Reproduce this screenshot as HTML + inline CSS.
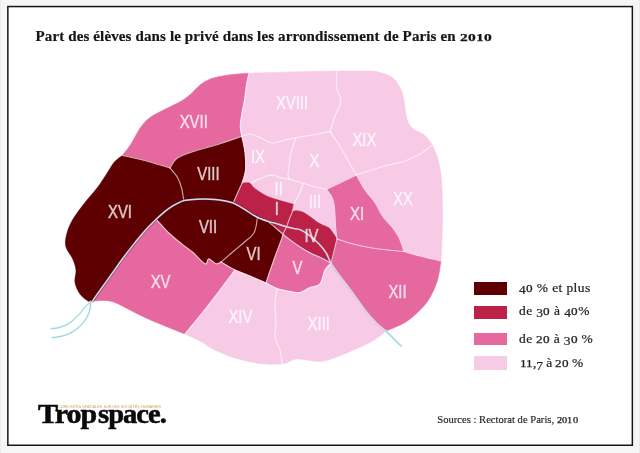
<!DOCTYPE html>
<html lang="fr"><head><meta charset="utf-8"><title>Part des élèves dans le privé</title>
<style>
html,body{margin:0;padding:0}
body{width:640px;height:453px;background:#f6f6f6;position:relative;box-shadow:inset 1px 0 0 #ececec, inset -1px 0 0 #ececec;overflow:hidden;font-family:"Liberation Serif",serif}
#title{position:absolute;left:35.5px;top:27px;font-weight:bold;font-size:15px;line-height:18px;color:#151515;white-space:nowrap;letter-spacing:0.13px;-webkit-text-stroke:.2px #151515}
.leg{position:absolute;left:474px;width:33px}
.lt{position:absolute;left:519px;font-size:13.5px;line-height:16px;color:#222;-webkit-text-stroke:.22px #222;white-space:nowrap;letter-spacing:0.4px}
#src{position:absolute;left:437.3px;top:413.6px;font-size:10.6px;line-height:12px;color:#222;-webkit-text-stroke:.15px #222;white-space:nowrap}
#logo{position:absolute;left:38.2px;top:399px;font-weight:bold;font-size:28px;line-height:30px;color:#0a0a0a;letter-spacing:-0.95px;white-space:nowrap;-webkit-text-stroke:0.55px #0a0a0a}
#tag{position:absolute;left:57.6px;top:403.6px;font-family:"Liberation Sans",sans-serif;font-size:4.2px;line-height:5px;color:#c9a45a;white-space:nowrap;transform-origin:0 0;transform:scaleX(0.906)}
.o{display:inline-block;font-size:.74em;width:.68em;transform:scaleX(1.32);transform-origin:0 100%;-webkit-text-stroke:.25px currentColor;letter-spacing:0}
.d{position:relative;top:.2em}
#title .o{width:.72em;transform:scaleX(1.4)}
#title,.lt,#src,#logo,#tag,.leg{filter:blur(0.4px)}
</style></head><body>
<svg id="frame" width="640" height="453" viewBox="0 0 640 453" style="position:absolute;left:0;top:0"><rect x="7.85" y="6.55" width="624.5" height="438.7" fill="#fff" stroke="#161616" stroke-width="1.5"/></svg>
<div id="title">Part des élèves dans le privé dans les arrondissement de Paris en <span class="o">2</span><span class="o">0</span><span class="o">1</span><span class="o">0</span></div>
<svg width="640" height="453" viewBox="0 0 640 453" style="position:absolute;left:0;top:0;filter:blur(0.45px)">
<g stroke-linejoin="round">
<path fill="#e5689f" stroke="#e5689f" stroke-width="0.6" d="M122.3,155.5C123.8,153.6 128.1,148.4 131.0,143.9C133.9,139.4 137.0,132.6 139.9,128.4C142.8,124.2 145.4,121.2 148.7,118.5C152.0,115.8 156.0,113.9 159.7,111.9C163.4,109.9 167.1,108.2 170.8,106.4C174.5,104.6 178.5,102.8 181.8,100.8C185.1,98.8 187.7,96.8 190.6,94.2C193.5,91.6 196.6,87.8 199.5,85.4C202.4,83.0 205.0,81.4 208.3,79.9C211.6,78.4 214.9,77.5 219.3,76.6C223.7,75.7 229.9,74.9 234.8,74.3C239.8,73.7 246.6,73.4 249.0,73.2C248.6,75.2 247.2,80.5 246.5,85.0C245.8,89.5 245.2,95.3 244.5,100.0C243.8,104.7 242.7,108.6 242.0,113.0C241.3,117.4 240.3,122.6 240.3,126.5C240.3,130.4 241.6,134.6 241.8,136.2C238.2,137.5 227.8,141.3 220.0,143.8C212.2,146.3 202.1,148.6 195.0,151.0C187.9,153.4 181.7,155.2 177.5,158.0C173.3,160.8 171.2,166.3 170.0,168.0C168.3,167.5 164.6,166.3 160.0,165.0C155.4,163.7 148.8,161.6 142.5,160.0C136.2,158.4 125.7,156.2 122.3,155.5Z"/>
<path fill="#f7cbe5" stroke="#f7cbe5" stroke-width="0.6" d="M249.0,73.2C255.8,73.0 275.3,72.4 290.0,72.0C304.7,71.6 329.2,71.2 337.0,71.0C336.9,72.5 336.7,76.9 336.7,80.0C336.7,83.1 336.3,86.2 337.0,89.5C337.7,92.8 340.6,96.8 340.9,100.0C341.1,103.2 339.5,105.8 338.5,108.5C337.5,111.2 336.4,112.2 335.0,116.0C333.6,119.8 330.8,128.9 330.0,131.5C326.7,132.2 315.7,134.5 310.0,135.5C304.3,136.5 298.3,137.2 296.0,137.5C294.2,137.9 288.9,139.1 285.0,140.0C281.1,140.9 276.7,143.4 272.5,143.0C268.3,142.6 263.8,139.0 260.0,137.5C256.2,136.0 253.0,134.2 250.0,134.0C247.0,133.8 243.2,135.8 241.8,136.2C241.6,134.6 240.3,130.4 240.3,126.5C240.3,122.6 241.3,117.4 242.0,113.0C242.7,108.6 243.8,104.7 244.5,100.0C245.2,95.3 245.8,89.5 246.5,85.0C247.2,80.5 248.6,75.2 249.0,73.2Z"/>
<path fill="#f7cbe5" stroke="#f7cbe5" stroke-width="0.6" d="M337.0,71.0C342.5,71.0 362.8,70.8 370.0,71.0C377.2,71.2 376.2,71.4 380.0,72.5C383.8,73.6 389.2,75.0 392.5,77.5C395.8,80.0 398.1,83.8 400.0,87.5C401.9,91.2 403.0,95.4 404.0,100.0C405.0,104.6 405.2,111.0 406.0,115.0C406.8,119.0 407.5,121.5 409.0,124.0C410.5,126.5 412.3,128.1 415.0,130.0C417.7,131.9 422.1,133.0 425.0,135.5C427.9,138.0 431.2,143.4 432.5,145.0C430.4,146.5 424.6,151.3 420.0,154.0C415.4,156.7 410.8,159.0 405.0,161.0C399.2,163.0 390.8,164.4 385.0,166.0C379.2,167.6 374.8,169.0 370.0,170.5C365.2,172.0 358.8,174.2 356.5,175.0C355.4,173.2 352.8,168.8 350.0,164.0C347.2,159.2 343.3,151.9 340.0,146.5C336.7,141.1 331.7,134.0 330.0,131.5C330.8,128.9 333.6,119.8 335.0,116.0C336.4,112.2 337.5,111.2 338.5,108.5C339.5,105.8 341.1,103.2 340.9,100.0C340.6,96.8 337.7,92.8 337.0,89.5C336.3,86.2 336.7,83.1 336.7,80.0C336.7,76.9 336.9,72.5 337.0,71.0Z"/>
<path fill="#f7cbe5" stroke="#f7cbe5" stroke-width="0.6" d="M432.5,145.0C433.3,147.1 436.2,153.3 437.5,157.5C438.8,161.7 439.6,165.4 440.3,170.0C441.0,174.6 441.5,180.0 441.8,185.0C442.1,190.0 442.3,194.2 442.4,200.0C442.5,205.8 442.7,212.5 442.6,220.0C442.5,227.5 442.1,238.2 441.8,245.0C441.5,251.8 441.1,258.3 441.0,261.0C437.5,260.2 426.2,257.6 420.0,256.0C413.8,254.4 406.7,252.2 404.0,251.5C403.2,249.2 400.9,241.5 399.0,237.5C397.1,233.5 395.2,231.1 392.5,227.5C389.8,223.9 385.4,220.2 382.5,216.0C379.6,211.8 377.9,206.8 375.0,202.5C372.1,198.2 368.1,194.6 365.0,190.0C361.9,185.4 357.9,177.5 356.5,175.0C358.8,174.2 365.2,172.0 370.0,170.5C374.8,169.0 379.2,167.6 385.0,166.0C390.8,164.4 399.2,163.0 405.0,161.0C410.8,159.0 415.4,156.7 420.0,154.0C424.6,151.3 430.4,146.5 432.5,145.0Z"/>
<path fill="#5e0001" stroke="#5e0001" stroke-width="0.6" d="M122.3,155.5C120.9,156.7 116.7,159.2 114.0,162.5C111.3,165.8 108.8,170.8 106.0,175.0C103.2,179.2 101.0,182.9 97.5,187.5C94.0,192.1 89.2,197.1 85.0,202.5C80.8,207.9 75.6,214.6 72.5,220.0C69.4,225.4 67.6,230.5 66.5,235.0C65.4,239.5 65.0,243.1 66.0,247.0C67.0,250.9 70.8,254.7 72.5,258.5C74.2,262.3 75.6,266.0 76.0,270.0C76.4,274.0 74.3,278.5 75.0,282.5C75.7,286.5 77.8,290.9 80.0,294.0C82.2,297.1 85.9,299.8 88.0,301.0C90.1,302.2 91.8,301.0 92.5,301.0C93.9,299.0 97.7,293.5 101.0,288.9C104.3,284.3 108.4,278.5 112.1,273.4C115.8,268.2 119.4,263.0 123.1,258.0C126.8,253.0 130.5,248.2 134.2,243.6C137.9,239.0 141.5,234.4 145.2,230.4C148.9,226.4 154.4,221.2 156.2,219.3C157.7,218.0 162.5,213.5 165.0,211.4C167.5,209.3 169.2,208.1 171.2,206.8C173.3,205.4 175.4,204.3 177.5,203.3C179.6,202.3 182.7,201.1 183.8,200.6C183.4,198.5 182.6,191.8 181.6,188.0C180.6,184.2 179.4,180.8 177.5,177.5C175.6,174.2 171.2,169.6 170.0,168.0C168.3,167.5 164.6,166.3 160.0,165.0C155.4,163.7 148.8,161.6 142.5,160.0C136.2,158.4 125.7,156.2 122.3,155.5Z"/>
<path fill="#5e0001" stroke="#5e0001" stroke-width="0.6" d="M170.0,168.0C171.2,166.3 173.3,160.8 177.5,158.0C181.7,155.2 187.9,153.4 195.0,151.0C202.1,148.6 212.2,146.3 220.0,143.8C227.8,141.3 238.2,137.5 241.8,136.2C242.3,138.9 244.4,146.9 245.0,152.5C245.6,158.1 246.0,164.9 245.5,170.0C245.0,175.1 242.6,181.0 242.0,183.2C241.3,184.7 239.5,188.7 238.0,192.0C236.5,195.3 234.0,201.3 233.2,203.2C231.7,202.8 227.0,201.4 224.0,200.8C221.0,200.2 218.2,199.8 215.0,199.5C211.8,199.2 208.1,199.0 205.0,199.0C201.9,199.0 198.8,199.1 196.2,199.2C193.8,199.4 192.1,199.6 190.0,199.8C187.9,200.0 184.8,200.5 183.8,200.6C183.4,198.5 182.6,191.8 181.6,188.0C180.6,184.2 179.4,180.8 177.5,177.5C175.6,174.2 171.2,169.6 170.0,168.0Z"/>
<path fill="#f7cbe5" stroke="#f7cbe5" stroke-width="0.6" d="M241.8,136.2C242.3,138.9 244.4,146.9 245.0,152.5C245.6,158.1 246.0,164.9 245.5,170.0C245.0,175.1 242.6,181.0 242.0,183.2C243.5,183.2 249.5,183.0 251.0,183.0C252.3,182.3 256.2,180.2 259.0,179.0C261.8,177.8 265.2,176.3 267.7,175.7C270.2,175.1 271.9,175.0 274.0,175.3C276.1,175.6 277.5,177.0 280.0,177.6C282.5,178.2 287.5,178.8 289.0,179.0C288.8,178.2 288.0,175.9 288.0,174.0C288.0,172.1 288.3,171.1 288.8,167.5C289.3,163.9 289.8,157.5 291.0,152.5C292.2,147.5 295.2,140.0 296.0,137.5C294.2,137.9 288.9,139.1 285.0,140.0C281.1,140.9 276.7,143.4 272.5,143.0C268.3,142.6 263.8,139.0 260.0,137.5C256.2,136.0 253.0,134.2 250.0,134.0C247.0,133.8 243.2,135.8 241.8,136.2Z"/>
<path fill="#f7cbe5" stroke="#f7cbe5" stroke-width="0.6" d="M296.0,137.5C298.3,137.2 304.3,136.5 310.0,135.5C315.7,134.5 326.7,132.2 330.0,131.5C331.7,134.0 336.7,141.1 340.0,146.5C343.3,151.9 347.2,159.2 350.0,164.0C352.8,168.8 355.4,173.2 356.5,175.0C351.5,177.4 331.5,186.9 326.5,189.3C324.6,188.9 319.1,188.0 315.2,187.0C311.3,186.0 305.3,183.9 303.3,183.3C300.9,182.6 291.4,179.7 289.0,179.0C288.8,178.2 288.0,175.9 288.0,174.0C288.0,172.1 288.3,171.1 288.8,167.5C289.3,163.9 289.8,157.5 291.0,152.5C292.2,147.5 295.2,140.0 296.0,137.5Z"/>
<path fill="#f7cbe5" stroke="#f7cbe5" stroke-width="0.6" d="M251.0,183.0C252.3,182.3 256.2,180.2 259.0,179.0C261.8,177.8 265.2,176.3 267.7,175.7C270.2,175.1 271.9,175.0 274.0,175.3C276.1,175.6 277.5,177.0 280.0,177.6C282.5,178.2 287.5,178.8 289.0,179.0C291.4,179.7 300.9,182.6 303.3,183.3C302.7,184.9 301.4,189.2 299.8,192.7C298.2,196.2 295.0,202.5 294.0,204.5C291.7,203.8 284.4,201.9 280.0,200.6C275.6,199.3 271.2,198.0 267.7,196.5C264.2,195.0 261.4,193.1 259.0,191.5C256.6,189.9 254.6,188.4 253.0,187.0C251.4,185.6 250.1,183.7 249.5,183.0Z"/>
<path fill="#f7cbe5" stroke="#f7cbe5" stroke-width="0.6" d="M303.3,183.3C305.3,183.9 311.3,186.0 315.2,187.0C319.1,188.0 324.6,188.9 326.5,189.3C327.4,190.5 330.4,194.1 331.6,196.5C332.9,198.9 333.4,200.9 334.0,204.0C334.6,207.1 334.7,211.2 335.0,215.0C335.3,218.8 335.3,223.0 335.6,227.0C335.9,231.0 336.8,237.0 337.0,239.0C336.2,237.8 333.4,233.5 332.0,231.6C330.6,229.7 330.0,228.6 328.5,227.6C327.0,226.6 324.8,226.2 323.0,225.3C321.2,224.4 319.4,223.5 317.5,222.3C315.6,221.1 313.6,219.3 311.9,218.1C310.2,216.8 308.8,215.8 307.2,214.8C305.6,213.8 304.2,212.7 302.5,212.0C300.8,211.3 298.6,210.9 296.9,210.8C295.2,210.7 293.1,211.5 292.4,211.6C292.7,210.4 293.7,205.7 294.0,204.5C295.0,202.5 298.2,196.2 299.8,192.7C301.4,189.2 302.7,184.9 303.3,183.3Z"/>
<path fill="#e5689f" stroke="#e5689f" stroke-width="0.6" d="M326.5,189.3C331.5,186.9 351.5,177.4 356.5,175.0C357.9,177.5 361.9,185.4 365.0,190.0C368.1,194.6 372.1,198.2 375.0,202.5C377.9,206.8 379.6,211.8 382.5,216.0C385.4,220.2 389.8,223.9 392.5,227.5C395.2,231.1 397.1,233.5 399.0,237.5C400.9,241.5 403.2,249.2 404.0,251.5C399.2,251.0 383.2,249.7 375.0,248.5C366.8,247.3 361.3,246.1 355.0,244.5C348.7,242.9 340.0,239.9 337.0,239.0C336.8,237.0 335.9,231.0 335.6,227.0C335.3,223.0 335.3,218.8 335.0,215.0C334.7,211.2 334.6,207.1 334.0,204.0C333.4,200.9 332.9,198.9 331.6,196.5C330.4,194.1 327.4,190.5 326.5,189.3Z"/>
<path fill="#e5689f" stroke="#e5689f" stroke-width="0.6" d="M337.0,239.0C340.0,239.9 348.7,242.9 355.0,244.5C361.3,246.1 366.8,247.3 375.0,248.5C383.2,249.7 399.2,251.0 404.0,251.5C406.7,252.2 413.8,254.4 420.0,256.0C426.2,257.6 437.5,260.2 441.0,261.0C440.4,264.2 439.3,273.9 437.5,280.0C435.7,286.1 432.9,292.5 430.0,297.5C427.1,302.5 424.2,305.8 420.0,310.0C415.8,314.2 410.7,319.0 405.0,322.5C399.3,326.0 389.2,329.6 386.0,331.0C384.3,329.6 379.5,326.0 376.0,322.5C372.5,319.0 368.9,315.0 365.0,310.0C361.1,305.0 356.7,298.2 352.5,292.5C348.3,286.8 343.6,280.9 340.0,276.0C336.4,271.1 332.5,265.3 331.0,263.2C332.0,259.2 336.0,243.0 337.0,239.0Z"/>
<path fill="#bc2147" stroke="#bc2147" stroke-width="0.6" d="M242.0,183.2C243.2,183.2 247.7,182.4 249.5,183.0C251.3,183.6 251.4,185.6 253.0,187.0C254.6,188.4 256.6,189.9 259.0,191.5C261.4,193.1 264.2,195.0 267.7,196.5C271.2,198.0 275.6,199.3 280.0,200.6C284.4,201.9 291.7,203.8 294.0,204.5C293.7,205.7 292.7,210.4 292.4,211.6C291.9,212.8 290.4,216.5 289.4,219.0C288.4,221.5 287.0,225.5 286.5,226.8C285.0,226.3 280.7,224.9 277.5,224.0C274.3,223.1 269.8,221.9 267.2,221.1C264.6,220.3 262.9,219.5 262.0,219.2C261.2,218.9 258.2,217.7 257.5,217.4C256.8,217.0 255.4,216.4 253.1,215.0C250.8,213.6 247.1,210.9 243.8,208.9C240.4,206.9 235.0,204.1 233.2,203.2C234.0,201.3 236.5,195.3 238.0,192.0C239.5,188.7 241.3,184.7 242.0,183.2Z"/>
<path fill="#bc2147" stroke="#bc2147" stroke-width="0.6" d="M262.0,219.2C262.9,219.5 264.6,220.3 267.2,221.1C269.8,221.9 274.3,223.1 277.5,224.0C280.7,224.9 285.0,226.3 286.5,226.8C285.9,228.0 283.6,233.0 283.0,234.2C282.1,233.4 280.0,231.6 277.5,229.5C275.0,227.4 270.6,223.3 268.0,221.6C265.4,219.9 263.0,219.6 262.0,219.2Z"/>
<path fill="#bc2147" stroke="#bc2147" stroke-width="0.6" d="M292.4,211.6C293.1,211.5 295.2,210.7 296.9,210.8C298.6,210.9 300.8,211.3 302.5,212.0C304.2,212.7 305.6,213.8 307.2,214.8C308.8,215.8 310.2,216.8 311.9,218.1C313.6,219.3 315.6,221.1 317.5,222.3C319.4,223.5 321.2,224.4 323.0,225.3C324.8,226.2 327.0,226.6 328.5,227.6C330.0,228.6 330.6,229.7 332.0,231.6C333.4,233.5 336.2,237.8 337.0,239.0C336.0,243.0 332.0,259.2 331.0,263.2C329.6,262.4 325.8,260.1 322.5,258.5C319.2,256.9 315.0,255.4 311.2,253.5C307.5,251.6 304.1,249.7 300.0,247.0C295.9,244.3 289.7,239.6 286.9,237.5C284.1,235.4 283.6,234.8 283.0,234.2C283.6,233.0 285.9,228.0 286.5,226.8C287.0,225.5 288.4,221.5 289.4,219.0C290.4,216.5 291.9,212.8 292.4,211.6Z"/>
<path fill="#5e0001" stroke="#5e0001" stroke-width="0.6" d="M183.8,200.6C184.8,200.5 187.9,200.0 190.0,199.8C192.1,199.6 193.8,199.4 196.2,199.2C198.8,199.1 201.9,199.0 205.0,199.0C208.1,199.0 211.8,199.2 215.0,199.5C218.2,199.8 221.0,200.2 224.0,200.8C227.0,201.4 231.7,202.8 233.2,203.2C235.0,204.1 240.4,206.9 243.8,208.9C247.1,210.9 250.8,213.6 253.1,215.0C255.4,216.4 256.8,217.0 257.5,217.4C256.9,219.9 256.4,228.3 254.2,232.4C252.0,236.5 247.9,238.9 244.5,242.0C241.1,245.1 237.8,247.7 233.9,251.0C230.0,254.3 223.2,260.2 221.0,262.0C220.2,262.3 218.0,264.3 216.0,263.8C214.0,263.2 210.6,258.8 208.8,258.8C206.9,258.8 207.7,264.9 205.0,263.8C202.3,262.6 195.8,254.9 192.5,252.0C189.2,249.1 188.8,249.5 185.0,246.5C181.2,243.5 174.8,238.5 170.0,234.0C165.2,229.5 158.5,221.8 156.2,219.3C157.7,218.0 162.5,213.5 165.0,211.4C167.5,209.3 169.2,208.1 171.2,206.8C173.3,205.4 175.4,204.3 177.5,203.3C179.6,202.3 182.7,201.1 183.8,200.6Z"/>
<path fill="#5e0001" stroke="#5e0001" stroke-width="0.6" d="M257.5,217.4C258.2,217.7 261.2,218.9 262.0,219.2C263.0,219.6 265.4,219.9 268.0,221.6C270.6,223.3 275.0,227.4 277.5,229.5C280.0,231.6 282.1,233.4 283.0,234.2C282.7,235.2 282.5,236.7 281.3,240.0C280.1,243.3 277.7,249.3 276.0,254.0C274.3,258.7 272.7,263.2 271.0,268.0C269.3,272.8 266.8,280.5 266.0,283.0C263.3,281.8 255.2,278.2 250.0,276.0C244.8,273.8 237.5,271.0 235.0,270.0C232.7,268.7 223.3,263.3 221.0,262.0C223.2,260.2 230.0,254.3 233.9,251.0C237.8,247.7 241.1,245.1 244.5,242.0C247.9,238.9 252.0,236.5 254.2,232.4C256.4,228.3 256.9,219.9 257.5,217.4Z"/>
<path fill="#e5689f" stroke="#e5689f" stroke-width="0.6" d="M283.0,234.2C283.6,234.8 284.1,235.4 286.9,237.5C289.7,239.6 295.9,244.3 300.0,247.0C304.1,249.7 307.5,251.6 311.2,253.5C315.0,255.4 319.2,256.9 322.5,258.5C325.8,260.1 329.6,262.4 331.0,263.2C330.0,264.3 326.8,266.6 325.0,270.0C323.2,273.4 322.5,280.8 320.0,283.8C317.5,286.7 313.3,286.0 310.0,287.5C306.7,289.0 303.3,291.8 300.0,292.5C296.7,293.2 293.8,292.1 290.0,291.5C286.2,290.9 279.6,289.2 277.5,288.8C275.6,287.8 267.9,284.0 266.0,283.0C266.8,280.5 269.3,272.8 271.0,268.0C272.7,263.2 274.3,258.7 276.0,254.0C277.7,249.3 280.1,243.3 281.3,240.0C282.5,236.7 282.7,235.2 283.0,234.2Z"/>
<path fill="#e5689f" stroke="#e5689f" stroke-width="0.6" d="M156.2,219.3C154.4,221.2 148.9,226.4 145.2,230.4C141.5,234.4 137.9,239.0 134.2,243.6C130.5,248.2 126.8,253.0 123.1,258.0C119.4,263.0 115.8,268.2 112.1,273.4C108.4,278.5 104.3,284.3 101.0,288.9C97.7,293.5 93.9,299.0 92.5,301.0C94.6,300.9 101.2,300.2 105.0,300.5C108.8,300.8 110.8,300.9 115.0,302.5C119.2,304.1 125.0,307.5 130.0,310.0C135.0,312.5 139.2,314.8 145.0,317.5C150.8,320.2 158.3,323.2 165.0,326.0C171.7,328.8 181.7,332.7 185.0,334.0C187.9,330.4 196.7,319.8 202.5,312.5C208.3,305.2 214.6,297.1 220.0,290.0C225.4,282.9 232.5,273.3 235.0,270.0C232.7,268.7 223.3,263.3 221.0,262.0C220.2,262.3 218.0,264.3 216.0,263.8C214.0,263.2 210.6,258.8 208.8,258.8C206.9,258.8 207.7,264.9 205.0,263.8C202.3,262.6 195.8,254.9 192.5,252.0C189.2,249.1 188.8,249.5 185.0,246.5C181.2,243.5 174.8,238.5 170.0,234.0C165.2,229.5 158.5,221.8 156.2,219.3Z"/>
<path fill="#f7cbe5" stroke="#f7cbe5" stroke-width="0.6" d="M235.0,270.0C232.5,273.3 225.4,282.9 220.0,290.0C214.6,297.1 208.3,305.2 202.5,312.5C196.7,319.8 187.9,330.4 185.0,334.0C187.5,335.2 195.0,338.3 200.0,341.0C205.0,343.7 208.8,347.0 215.0,350.0C221.2,353.0 229.6,356.5 237.5,358.8C245.4,361.0 255.1,362.9 262.5,363.8C269.9,364.6 278.8,364.0 282.0,364.0C281.7,361.7 281.2,354.4 280.0,350.0C278.8,345.6 275.7,342.1 275.0,337.5C274.3,332.9 276.0,328.3 276.0,322.5C276.0,316.7 274.8,308.1 275.0,302.5C275.2,296.9 277.1,291.0 277.5,288.8C275.6,287.8 267.9,284.0 266.0,283.0C263.3,281.8 255.2,278.2 250.0,276.0C244.8,273.8 237.5,271.0 235.0,270.0Z"/>
<path fill="#f7cbe5" stroke="#f7cbe5" stroke-width="0.6" d="M277.5,288.8C279.6,289.2 286.2,290.9 290.0,291.5C293.8,292.1 296.7,293.2 300.0,292.5C303.3,291.8 306.7,289.0 310.0,287.5C313.3,286.0 317.5,286.7 320.0,283.8C322.5,280.8 323.2,273.4 325.0,270.0C326.8,266.6 330.0,264.3 331.0,263.2C332.5,265.3 336.4,271.1 340.0,276.0C343.6,280.9 348.3,286.8 352.5,292.5C356.7,298.2 361.1,305.0 365.0,310.0C368.9,315.0 372.5,319.0 376.0,322.5C379.5,326.0 384.3,329.6 386.0,331.0C383.8,332.7 378.1,337.8 372.5,341.0C366.9,344.2 359.2,347.6 352.5,350.5C345.8,353.4 337.9,356.7 332.5,358.5C327.1,360.3 324.2,361.2 320.0,361.5C315.8,361.8 311.5,360.4 307.5,360.0C303.5,359.6 299.3,358.6 296.0,359.0C292.7,359.4 289.8,361.7 287.5,362.5C285.2,363.3 282.9,363.8 282.0,364.0C281.7,361.7 281.2,354.4 280.0,350.0C278.8,345.6 275.7,342.1 275.0,337.5C274.3,332.9 276.0,328.3 276.0,322.5C276.0,316.7 274.8,308.1 275.0,302.5C275.2,296.9 277.1,291.0 277.5,288.8Z"/>
</g>
<g fill="none" stroke="#fff" stroke-opacity="0.65" stroke-width="1.1" stroke-linejoin="round" stroke-linecap="round">
<path d="M249.0,73.2C248.6,75.2 247.2,80.5 246.5,85.0C245.8,89.5 245.2,95.3 244.5,100.0C243.8,104.7 242.7,108.6 242.0,113.0C241.3,117.4 240.3,122.6 240.3,126.5C240.3,130.4 241.6,134.6 241.8,136.2"/>
<path d="M241.8,136.2C238.2,137.5 227.8,141.3 220.0,143.8C212.2,146.3 202.1,148.6 195.0,151.0C187.9,153.4 181.7,155.2 177.5,158.0C173.3,160.8 171.2,166.3 170.0,168.0"/>
<path d="M170.0,168.0C168.3,167.5 164.6,166.3 160.0,165.0C155.4,163.7 148.8,161.6 142.5,160.0C136.2,158.4 125.7,156.2 122.3,155.5"/>
<path d="M170.0,168.0C171.2,169.6 175.6,174.2 177.5,177.5C179.4,180.8 180.6,184.2 181.6,188.0C182.6,191.8 183.4,198.5 183.8,200.6"/>
<path d="M337.0,71.0C336.9,72.5 336.7,76.9 336.7,80.0C336.7,83.1 336.3,86.2 337.0,89.5C337.7,92.8 340.6,96.8 340.9,100.0C341.1,103.2 339.5,105.8 338.5,108.5C337.5,111.2 336.4,112.2 335.0,116.0C333.6,119.8 330.8,128.9 330.0,131.5"/>
<path d="M241.8,136.2C243.2,135.8 247.0,133.8 250.0,134.0C253.0,134.2 256.2,136.0 260.0,137.5C263.8,139.0 268.3,142.6 272.5,143.0C276.7,143.4 281.1,140.9 285.0,140.0C288.9,139.1 291.8,138.2 296.0,137.5C300.2,136.8 304.3,136.5 310.0,135.5C315.7,134.5 326.7,132.2 330.0,131.5"/>
<path d="M241.8,136.2C242.3,138.9 244.4,146.9 245.0,152.5C245.6,158.1 246.0,164.9 245.5,170.0C245.0,175.1 242.6,181.0 242.0,183.2"/>
<path d="M296.0,137.5C295.2,140.0 292.2,147.5 291.0,152.5C289.8,157.5 289.3,163.9 288.8,167.5C288.3,171.1 288.0,172.1 288.0,174.0C288.0,175.9 288.8,178.2 289.0,179.0"/>
<path d="M251.0,183.0C252.3,182.3 256.2,180.2 259.0,179.0C261.8,177.8 265.2,176.3 267.7,175.7C270.2,175.1 271.9,175.0 274.0,175.3C276.1,175.6 277.5,177.0 280.0,177.6C282.5,178.2 287.5,178.8 289.0,179.0"/>
<path d="M289.0,179.0C291.4,179.7 298.9,182.0 303.3,183.3C307.7,184.6 311.3,186.0 315.2,187.0C319.1,188.0 324.6,188.9 326.5,189.3"/>
<path d="M330.0,131.5C331.7,134.0 336.7,141.1 340.0,146.5C343.3,151.9 347.2,159.2 350.0,164.0C352.8,168.8 355.4,173.2 356.5,175.0"/>
<path d="M326.5,189.3C331.5,186.9 351.5,177.4 356.5,175.0"/>
<path d="M432.5,145.0C430.4,146.5 424.6,151.3 420.0,154.0C415.4,156.7 410.8,159.0 405.0,161.0C399.2,163.0 390.8,164.4 385.0,166.0C379.2,167.6 374.8,169.0 370.0,170.5C365.2,172.0 358.8,174.2 356.5,175.0"/>
<path d="M356.5,175.0C357.9,177.5 361.9,185.4 365.0,190.0C368.1,194.6 372.1,198.2 375.0,202.5C377.9,206.8 379.6,211.8 382.5,216.0C385.4,220.2 389.8,223.9 392.5,227.5C395.2,231.1 397.1,233.5 399.0,237.5C400.9,241.5 403.2,249.2 404.0,251.5"/>
<path d="M337.0,239.0C340.0,239.9 348.7,242.9 355.0,244.5C361.3,246.1 366.8,247.3 375.0,248.5C383.2,249.7 399.2,251.0 404.0,251.5"/>
<path d="M404.0,251.5C406.7,252.2 413.8,254.4 420.0,256.0C426.2,257.6 437.5,260.2 441.0,261.0"/>
<path d="M326.5,189.3C327.4,190.5 330.4,194.1 331.6,196.5C332.9,198.9 333.4,200.9 334.0,204.0C334.6,207.1 334.7,211.2 335.0,215.0C335.3,218.8 335.3,223.0 335.6,227.0C335.9,231.0 336.8,237.0 337.0,239.0"/>
<path d="M303.3,183.3C302.7,184.9 301.4,189.2 299.8,192.7C298.2,196.2 295.2,201.3 294.0,204.5C292.8,207.7 293.2,209.2 292.4,211.6C291.6,214.0 290.4,216.5 289.4,219.0C288.4,221.5 287.6,224.3 286.5,226.8C285.4,229.3 283.9,232.0 283.0,234.2C282.1,236.4 282.5,236.7 281.3,240.0C280.1,243.3 277.7,249.3 276.0,254.0C274.3,258.7 272.7,263.2 271.0,268.0C269.3,272.8 266.8,280.5 266.0,283.0"/>
<path d="M242.0,183.2C241.3,184.7 239.5,188.7 238.0,192.0C236.5,195.3 234.0,201.3 233.2,203.2"/>
<path d="M156.2,219.3C158.5,221.8 165.2,229.5 170.0,234.0C174.8,238.5 181.2,243.5 185.0,246.5C188.8,249.5 189.2,249.1 192.5,252.0C195.8,254.9 202.3,262.6 205.0,263.8C207.7,264.9 206.9,258.8 208.8,258.8C210.6,258.8 214.0,263.2 216.0,263.8C218.0,264.3 220.2,262.3 221.0,262.0"/>
<path d="M257.5,217.4C256.9,219.9 256.4,228.3 254.2,232.4C252.0,236.5 247.9,238.9 244.5,242.0C241.1,245.1 237.8,247.7 233.9,251.0C230.0,254.3 223.2,260.2 221.0,262.0"/>
<path d="M221.0,262.0C223.3,263.3 230.2,267.7 235.0,270.0C239.8,272.3 244.8,273.8 250.0,276.0C255.2,278.2 263.3,281.8 266.0,283.0"/>
<path d="M235.0,270.0C232.5,273.3 225.4,282.9 220.0,290.0C214.6,297.1 208.3,305.2 202.5,312.5C196.7,319.8 187.9,330.4 185.0,334.0"/>
<path d="M266.0,283.0C267.9,284.0 273.5,287.3 277.5,288.8C281.5,290.2 286.2,290.9 290.0,291.5C293.8,292.1 296.7,293.2 300.0,292.5C303.3,291.8 306.7,289.0 310.0,287.5C313.3,286.0 317.5,286.7 320.0,283.8C322.5,280.8 323.2,273.4 325.0,270.0C326.8,266.6 330.0,264.3 331.0,263.2"/>
<path d="M277.5,288.8C277.1,291.0 275.2,296.9 275.0,302.5C274.8,308.1 276.0,316.7 276.0,322.5C276.0,328.3 274.3,332.9 275.0,337.5C275.7,342.1 278.8,345.6 280.0,350.0C281.2,354.4 281.7,361.7 282.0,364.0"/>
<path d="M337.0,239.0C336.0,243.0 332.0,259.2 331.0,263.2"/>
</g>
<g fill="none" stroke-linejoin="round" stroke-linecap="round">
<path stroke="#2a0a18" stroke-opacity="0.5" stroke-width="2.7" d="M92.5,301.0C93.9,299.0 97.7,293.5 101.0,288.9C104.3,284.3 108.4,278.5 112.1,273.4C115.8,268.2 119.4,263.0 123.1,258.0C126.8,253.0 130.5,248.2 134.2,243.6C137.9,239.0 141.5,234.4 145.2,230.4C148.9,226.4 152.9,222.5 156.2,219.3C159.5,216.1 162.5,213.5 165.0,211.4C167.5,209.3 169.2,208.1 171.2,206.8C173.3,205.4 175.4,204.3 177.5,203.3C179.6,202.3 181.7,201.2 183.8,200.6C185.8,200.0 187.9,200.0 190.0,199.8C192.1,199.6 193.8,199.4 196.2,199.2C198.8,199.1 201.9,199.0 205.0,199.0C208.1,199.0 211.8,199.2 215.0,199.5C218.2,199.8 221.0,200.2 224.0,200.8C227.0,201.4 229.9,201.8 233.2,203.2C236.5,204.5 240.4,206.9 243.8,208.9C247.1,210.9 250.8,213.6 253.1,215.0C255.4,216.4 256.0,216.7 257.5,217.4C259.0,218.1 260.4,218.6 262.0,219.2C263.6,219.8 264.6,220.3 267.2,221.1C269.8,221.9 275.8,223.5 277.5,224.0"/>
<path stroke="#8a86a8" stroke-opacity="0.35" stroke-width="2.0" d="M92.5,301.0C93.9,299.0 97.7,293.5 101.0,288.9C104.3,284.3 108.4,278.5 112.1,273.4C115.8,268.2 119.4,263.0 123.1,258.0C126.8,253.0 130.5,248.2 134.2,243.6C137.9,239.0 141.5,234.4 145.2,230.4C148.9,226.4 152.9,222.5 156.2,219.3C159.5,216.1 162.5,213.5 165.0,211.4C167.5,209.3 169.2,208.1 171.2,206.8C173.3,205.4 175.4,204.3 177.5,203.3C179.6,202.3 181.7,201.2 183.8,200.6C185.8,200.0 187.9,200.0 190.0,199.8C192.1,199.6 193.8,199.4 196.2,199.2C198.8,199.1 201.9,199.0 205.0,199.0C208.1,199.0 211.8,199.2 215.0,199.5C218.2,199.8 221.0,200.2 224.0,200.8C227.0,201.4 229.9,201.8 233.2,203.2C236.5,204.5 240.4,206.9 243.8,208.9C247.1,210.9 250.8,213.6 253.1,215.0C255.4,216.4 256.0,216.7 257.5,217.4C259.0,218.1 260.4,218.6 262.0,219.2C263.6,219.8 264.6,220.3 267.2,221.1C269.8,221.9 274.3,223.1 277.5,224.0C280.7,224.9 283.9,226.1 286.5,226.8C289.1,227.5 290.9,227.9 293.1,228.4C295.4,228.9 297.3,228.5 300.0,229.7C302.7,230.8 306.3,233.0 309.4,235.3C312.5,237.6 315.9,240.8 318.8,243.8C321.6,246.7 324.2,249.8 326.2,253.0C328.3,256.2 328.7,259.4 331.0,263.2C333.3,267.0 336.4,271.1 340.0,276.0C343.6,280.9 348.3,286.8 352.5,292.5C356.7,298.2 361.1,305.0 365.0,310.0C368.9,315.0 372.5,319.0 376.0,322.5C379.5,326.0 384.3,329.6 386.0,331.0"/>
<path stroke="#ddd6ea" stroke-width="1.45" d="M92.5,301.0C93.9,299.0 97.7,293.5 101.0,288.9C104.3,284.3 108.4,278.5 112.1,273.4C115.8,268.2 119.4,263.0 123.1,258.0C126.8,253.0 130.5,248.2 134.2,243.6C137.9,239.0 141.5,234.4 145.2,230.4C148.9,226.4 152.9,222.5 156.2,219.3C159.5,216.1 162.5,213.5 165.0,211.4C167.5,209.3 169.2,208.1 171.2,206.8C173.3,205.4 175.4,204.3 177.5,203.3C179.6,202.3 181.7,201.2 183.8,200.6C185.8,200.0 187.9,200.0 190.0,199.8C192.1,199.6 193.8,199.4 196.2,199.2C198.8,199.1 201.9,199.0 205.0,199.0C208.1,199.0 211.8,199.2 215.0,199.5C218.2,199.8 221.0,200.2 224.0,200.8C227.0,201.4 229.9,201.8 233.2,203.2C236.5,204.5 240.4,206.9 243.8,208.9C247.1,210.9 250.8,213.6 253.1,215.0C255.4,216.4 256.0,216.7 257.5,217.4C259.0,218.1 260.4,218.6 262.0,219.2C263.6,219.8 264.6,220.3 267.2,221.1C269.8,221.9 274.3,223.1 277.5,224.0C280.7,224.9 283.9,226.1 286.5,226.8C289.1,227.5 290.9,227.9 293.1,228.4C295.4,228.9 297.3,228.5 300.0,229.7C302.7,230.8 306.3,233.0 309.4,235.3C312.5,237.6 315.9,240.8 318.8,243.8C321.6,246.7 324.2,249.8 326.2,253.0C328.3,256.2 328.7,259.4 331.0,263.2C333.3,267.0 336.4,271.1 340.0,276.0C343.6,280.9 348.3,286.8 352.5,292.5C356.7,298.2 361.1,305.0 365.0,310.0C368.9,315.0 372.5,319.0 376.0,322.5C379.5,326.0 384.3,329.6 386.0,331.0"/>
<path stroke="#e2dcee" stroke-opacity="0.9" stroke-width="1.1" d="M253.1,215.0C253.8,215.4 256.0,216.7 257.5,217.4C259.0,218.1 260.2,218.5 262.0,219.2C263.8,219.9 265.4,219.9 268.0,221.6C270.6,223.3 275.0,227.4 277.5,229.5C280.0,231.6 281.4,232.9 283.0,234.2C284.6,235.5 284.1,235.4 286.9,237.5C289.7,239.6 295.9,244.3 300.0,247.0C304.1,249.7 307.5,251.6 311.2,253.5C315.0,255.4 319.2,256.9 322.5,258.5C325.8,260.1 329.6,262.4 331.0,263.2"/>
<path stroke="#d4f4f9" stroke-width="2.4" stroke-opacity="0.8" d="M90.5,301.8C89.5,302.8 86.8,305.2 84.7,307.5C82.6,309.8 80.8,312.9 78.1,315.5C75.4,318.1 71.9,321.4 68.8,323.4C65.7,325.4 62.5,326.5 59.6,327.4C56.7,328.3 52.9,328.5 51.6,328.7"/>
<path stroke="#d4f4f9" stroke-width="2.4" stroke-opacity="0.8" d="M90.7,302.5C90.5,304.0 90.4,308.4 89.4,311.5C88.4,314.6 87.0,317.7 84.7,320.8C82.4,323.9 78.8,327.6 75.5,330.0C72.2,332.4 68.8,334.0 64.9,335.3C61.0,336.6 54.4,337.3 52.3,337.7"/>
<path stroke="#d4f4f9" stroke-width="2.4" stroke-opacity="0.8" d="M386.0,331.0C387.5,332.5 392.5,337.5 395.0,340.0C397.5,342.5 400.0,345.0 401.0,346.0"/>
<path stroke="#97cfd8" stroke-width="1.0" d="M90.5,301.8C89.5,302.8 86.8,305.2 84.7,307.5C82.6,309.8 80.8,312.9 78.1,315.5C75.4,318.1 71.9,321.4 68.8,323.4C65.7,325.4 62.5,326.5 59.6,327.4C56.7,328.3 52.9,328.5 51.6,328.7"/>
<path stroke="#97cfd8" stroke-width="1.0" d="M90.7,302.5C90.5,304.0 90.4,308.4 89.4,311.5C88.4,314.6 87.0,317.7 84.7,320.8C82.4,323.9 78.8,327.6 75.5,330.0C72.2,332.4 68.8,334.0 64.9,335.3C61.0,336.6 54.4,337.3 52.3,337.7"/>
<path stroke="#9fd6e6" stroke-width="1.3" d="M386.0,331.0C387.5,332.5 392.5,337.5 395.0,340.0C397.5,342.5 400.0,345.0 401.0,346.0"/>
</g>
<g fill="#fff" fill-opacity="0.74" stroke="#fff" stroke-opacity="0.5" stroke-width="0.6" font-family="'Liberation Sans', Arial, sans-serif" text-anchor="middle">
<text transform="translate(193.75,127.5) scale(0.85,1)" font-size="17.5">XVII</text>
<text transform="translate(292,109) scale(0.85,1)" font-size="17.5">XVIII</text>
<text transform="translate(364.4,146.3) scale(0.85,1)" font-size="17.5">XIX</text>
<text transform="translate(403,204.5) scale(0.85,1)" font-size="17.5">XX</text>
<text transform="translate(120,218) scale(0.85,1)" font-size="17.5">XVI</text>
<text transform="translate(208.4,179.7) scale(0.85,1)" font-size="17.5">VIII</text>
<text transform="translate(258,163) scale(0.85,1)" font-size="17.5">IX</text>
<text transform="translate(314.4,167) scale(0.85,1)" font-size="17.5">X</text>
<text transform="translate(278.7,194.8) scale(0.85,1)" font-size="17.5">II</text>
<text transform="translate(314.9,208.4) scale(0.85,1)" font-size="17.5">III</text>
<text transform="translate(357,220) scale(0.85,1)" font-size="17.5">XI</text>
<text transform="translate(276.8,215.3) scale(0.85,1)" font-size="17.5">I</text>
<text transform="translate(311.5,242) scale(0.85,1)" font-size="17.5">IV</text>
<text transform="translate(208,232.6) scale(0.85,1)" font-size="17.5">VII</text>
<text transform="translate(253.5,260) scale(0.85,1)" font-size="17.5">VI</text>
<text transform="translate(297.5,273.75) scale(0.85,1)" font-size="17.5">V</text>
<text transform="translate(160.6,288) scale(0.85,1)" font-size="17.5">XV</text>
<text transform="translate(240.4,322.5) scale(0.85,1)" font-size="17.5">XIV</text>
<text transform="translate(318.75,329.5) scale(0.85,1)" font-size="17.5">XIII</text>
<text transform="translate(397.5,297.5) scale(0.85,1)" font-size="17.5">XII</text>
</g>
</svg>
<div class="leg" style="top:281.5px;height:13.5px;background:#5e0001"></div>
<div class="leg" style="top:306px;height:12.5px;background:#bc2147"></div>
<div class="leg" style="top:332.5px;height:12px;background:#e5689f"></div>
<div class="leg" style="top:356px;height:13.5px;background:#f7cbe5"></div>
<div class="lt" style="top:279.5px"><span class="d">4</span><span class="o">0</span> % et plus</div>
<div class="lt" style="top:302.7px">de <span class="d">3</span><span class="o">0</span> à <span class="d">4</span><span class="o">0</span>%</div>
<div class="lt" style="top:330.8px">de <span class="o">2</span><span class="o">0</span> à <span class="d">3</span><span class="o">0</span> %</div>
<div class="lt" style="top:355px;letter-spacing:-0.14px;left:519.5px"><span class="o">1</span><span class="o">1</span>,<span class="d">7</span> à <span class="o">2</span><span class="o">0</span> %</div>
<div id="src">Sources : Rectorat de Paris, <span class="o">2</span><span class="o">0</span><span class="o">1</span><span class="o">0</span></div>
<div id="tag">CURIOSITÉS SPATIALES SUR LES SOCIÉTÉS HUMAINES</div>
<div id="logo"><span style="position:absolute;left:0;transform-origin:0 0;transform:scaleX(1.07)">Trop</span><span style="position:absolute;left:59.8px;transform-origin:0 0;transform:scaleX(1.02)">space.</span></div>
</body></html>
